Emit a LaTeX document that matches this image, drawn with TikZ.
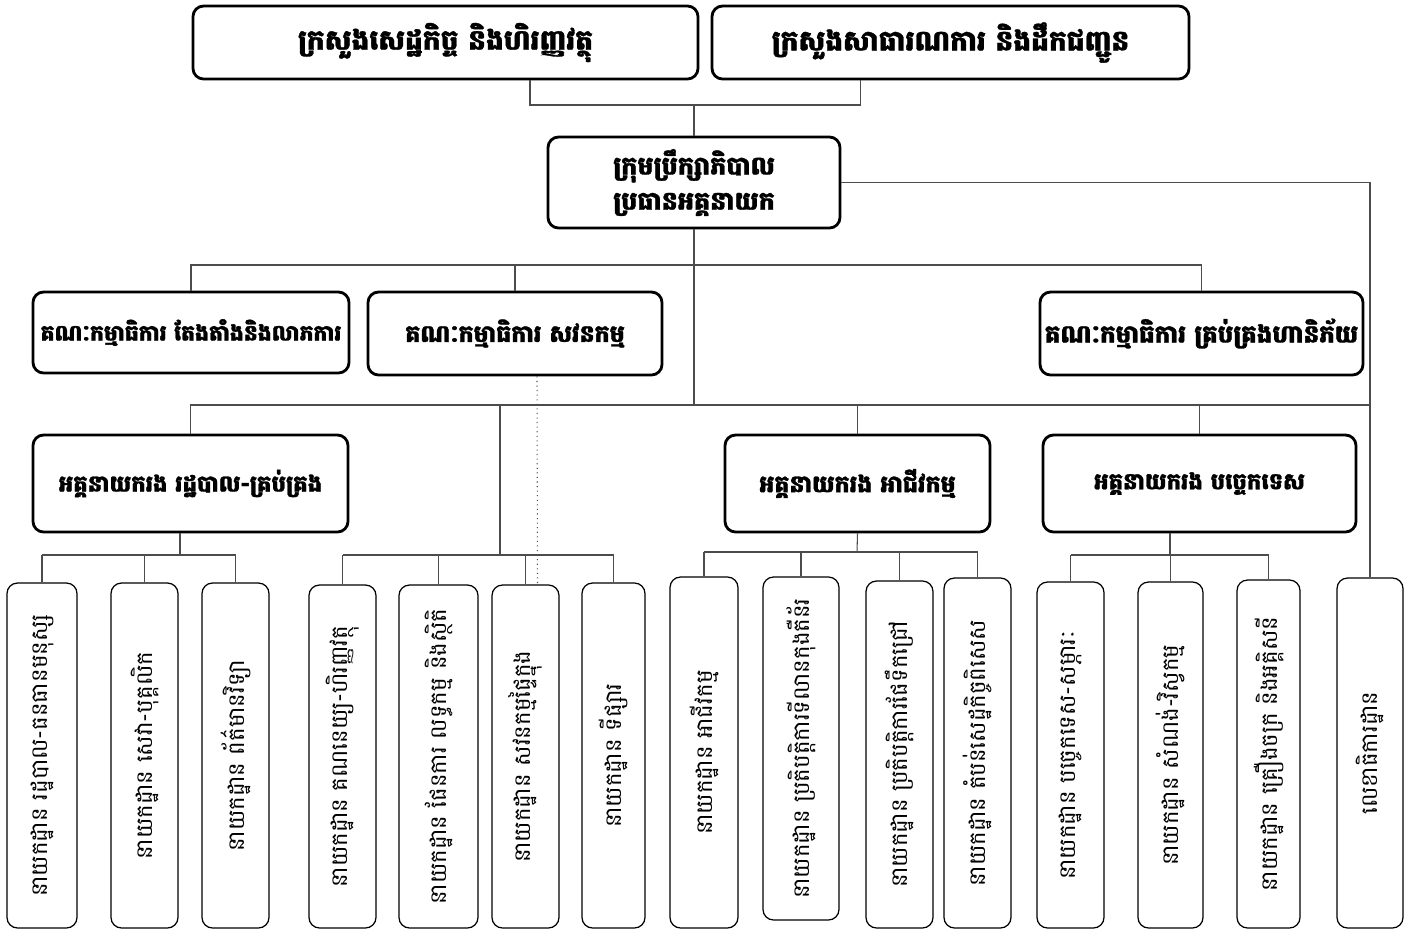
\documentclass[tikz,border=0pt]{standalone}
\usepackage{fontspec}
\newfontfamily\khmer[Script=Khmer]{Battambang}
\newfontfamily\khmerhead[Script=Khmer, FakeBold=1.2]{Battambang}
\tikzset{
  headbox/.style 2 args={draw, line width=1.6pt, rounded corners=6pt, align=center,
    minimum width=#1*0.02cm, minimum height=#2*0.02cm, inner sep=0pt,
    font=\khmerhead\bfseries\fontsize{12.5}{17}\selectfont},
  bigtext/.style={font=\khmerhead\bfseries\fontsize{#1}{20}\selectfont},
  deptbox/.style 2 args={draw, line width=0.7pt, rounded corners=6pt, rotate=90,
    minimum width=#2*0.02cm, minimum height=#1*0.02cm, inner sep=0pt,
    font=\khmer\fontsize{13}{15}\selectfont},
  link/.style={draw=black!70, line width=0.6pt}
}
\begin{document}
\begin{tikzpicture}[x=0.02cm, y=-0.02cm]
\useasboundingbox (0,0) rectangle (1413,931);
% ministries
\node[headbox={505}{73}, bigtext=16] (min1) at (445.5,42.5) {ក្រសួងសេដ្ឋកិច្ច និងហិរញ្ញវត្ថុ};
\node[headbox={477}{73}, bigtext=16] (min2) at (950.5,42.5) {ក្រសួងសាធារណការ និងដឹកជញ្ជូន};
% board
\node[headbox={292}{91}, bigtext=14.5] (board) at (694,182.5) {ក្រុមប្រឹក្សាភិបាល\\ប្រធានអគ្គនាយក};
% committees
\node[headbox={316}{81}] (com1) at (191,332.5) {គណៈកម្មាធិការ តែងតាំងនិងលាភការ};
\node[headbox={294}{83}, bigtext=13.5] (com2) at (515,333.5) {គណៈកម្មាធិការ សវនកម្ម};
\node[headbox={323}{83}, bigtext=14] (com3) at (1201.5,333.5) {គណៈកម្មាធិការ គ្រប់គ្រងហានិភ័យ};
% deputy directors
\node[headbox={315}{97}, bigtext=13] (dg1) at (190.5,483.5) {អគ្គនាយករង រដ្ឋបាល-គ្រប់គ្រង};
\node[headbox={265}{97}, bigtext=13.5] (dg2) at (857.5,483.5) {អគ្គនាយករង អាជីវកម្ម};
\node[headbox={313}{97}, bigtext=13] (dg3) at (1199.5,483.5) {អគ្គនាយករង បច្ចេកទេស};
% departments
\node[deptbox={70}{345}] (d1) at (42,755.5) {នាយកដ្ឋាន រដ្ឋបាល-ធនធានមនុស្ស};
\node[deptbox={67}{345}] (d2) at (144.5,755.5) {នាយកដ្ឋាន សេវា-បុគ្គលិក};
\node[deptbox={67}{345}] (d3) at (235.5,755.5) {នាយកដ្ឋាន ព័ត៌មានវិទ្យា};
\node[deptbox={67}{343}] (d4) at (342.5,756.5) {នាយកដ្ឋាន គណនេយ្យ-ហិរញ្ញវត្ថុ};
\node[deptbox={79}{343}] (d5) at (438.5,756.5) {នាយកដ្ឋាន ផែនការ លទ្ធកម្ម និងស្ថិតិ};
\node[deptbox={67}{343}] (d6) at (525.5,756.5) {នាយកដ្ឋាន សវនកម្មផ្ទៃក្នុង};
\node[deptbox={63}{345}] (d7) at (613.5,755.5) {នាយកដ្ឋាន ទីផ្សារ};
\node[deptbox={68}{351}] (d8) at (704,752.5) {នាយកដ្ឋាន អាជីវកម្ម};
\node[deptbox={76}{343}] (d9) at (801,748.5) {នាយកដ្ឋាន ប្រតិបត្តិការទីលានកុងតឺន័រ};
\node[deptbox={67}{347}] (d10) at (899.5,754.5) {នាយកដ្ឋាន ប្រតិបត្តិការផែទឹកជ្រៅ};
\node[deptbox={67}{350}] (d11) at (977.5,753) {នាយកដ្ឋាន តំបន់សេដ្ឋកិច្ចពិសេស};
\node[deptbox={67}{346}] (d12) at (1070.5,755) {នាយកដ្ឋាន បច្ចេកទេស-សម្ភារៈ};
\node[deptbox={65}{346}] (d13) at (1170.5,755) {នាយកដ្ឋាន សំណង់-វិស្វកម្ម};
\node[deptbox={63}{348}] (d14) at (1268.5,754) {នាយកដ្ឋាន គ្រឿងចក្រ និងអគ្គិសនី};
\node[deptbox={66}{350}] (d15) at (1370,753) {លេខាធិការដ្ឋាន};
% bus points
\coordinate (minjoin) at (694,105);
\coordinate (combus) at (694,265);
\coordinate (deptbus) at (694,405);
\coordinate (midtop) at (500,405);
\coordinate (midbus) at (500,555);
\coordinate (adminbus) at (180,555);
\coordinate (salesbus) at (857,552);
\coordinate (techbus) at (1170,555);
% ministries to board
\draw[link] ([xshift=1.69cm]min1.south) |- (minjoin) -| ([xshift=-1.81cm]min2.south);
\draw[link] (minjoin) -- (board.north);
\draw[link] (board.east) -| (d15.east);
% committees
\draw[link] (com1.north) |- (combus) -| (com3.north);
\draw[link] (com2.north) -- (com2.north |- combus);
\draw[link, dotted] ([xshift=0.44cm]com2.south) -- ([xshift=0.24cm]d6.east);
% deputy directors
\draw[link] (board.south) -- (deptbus);
\draw[link] (dg1.north) |- (d15.east |- deptbus);
\draw[link] (dg2.north) -- (dg2.north |- deptbus);
\draw[link] (dg3.north) -- (dg3.north |- deptbus);
\draw[link] (midtop) -- (midbus);
% groups of departments
\draw[link] (adminbus |- dg1.south) -- (adminbus);
\draw[link] (d1.east |- adminbus) -- (d3.east |- adminbus);
\foreach \d in {d1,d2,d3} \draw[link] (\d.east) -- (\d.east |- adminbus);
\draw[link] (d4.east |- midbus) -- (d7.east |- midbus);
\foreach \d in {d4,d5,d6,d7} \draw[link] (\d.east) -- (\d.east |- midbus);
\draw[link] (dg2.south) -- (salesbus);
\draw[link] (d8.east |- salesbus) -- (d11.east |- salesbus);
\foreach \d in {d8,d9,d10,d11} \draw[link] (\d.east) -- (\d.east |- salesbus);
\draw[link] (techbus |- dg3.south) -- (techbus);
\draw[link] (d12.east |- techbus) -- (d14.east |- techbus);
\foreach \d in {d12,d13,d14} \draw[link] (\d.east) -- (\d.east |- techbus);
\end{tikzpicture}
\end{document}
